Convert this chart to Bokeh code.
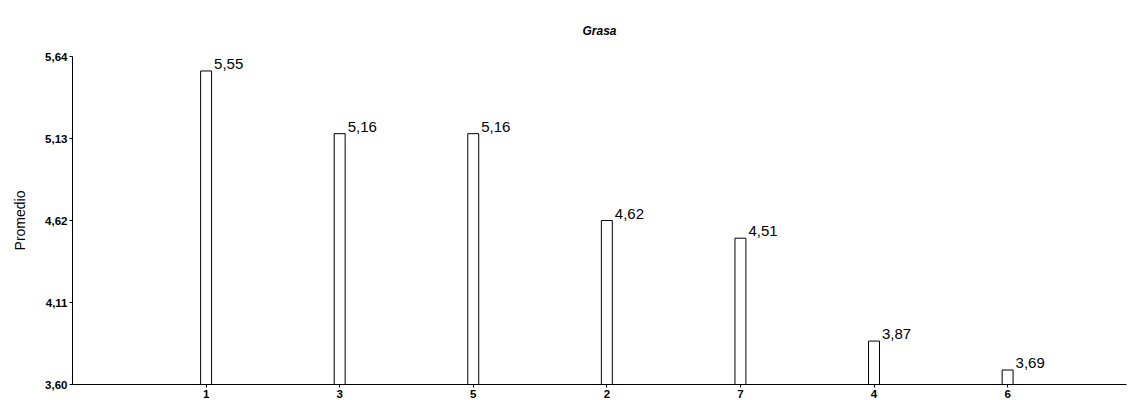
from bokeh.plotting import figure
from bokeh.models import Range1d, FixedTicker, ColumnDataSource
from bokeh.core.properties import value
from bokeh.embed import file_html
from bokeh.resources import INLINE

# Mean fat content per treatment, sorted from highest to lowest
categories = ["1", "3", "5", "2", "7", "4", "6"]
means = [5.55, 5.16, 5.16, 4.62, 4.51, 3.87, 3.69]
y_ticks = [3.60, 4.11, 4.62, 5.13, 5.64]

positions = list(range(1, len(categories) + 1))
labels = [f"{v:.2f}".replace(".", ",") for v in means]

src = ColumnDataSource(dict(x=positions, top=means, label=labels))

FONT = "Liberation Sans"

p = figure(
    width=1129, height=400,
    x_range=Range1d(0, 7.89), y_range=Range1d(3.60, 5.64),
    output_backend="svg", toolbar_location=None,
    min_border_left=72, min_border_right=3,
    min_border_top=56, min_border_bottom=16,
    title="Grasa",
)
p.outline_line_color = None
p.xgrid.visible = False
p.ygrid.visible = False
p.background_fill_color = "white"

p.title.align = "center"
p.title.offset = 9
p.title.standoff = 38
p.title.text_font = FONT
p.title.text_font_size = "12px"
p.title.text_font_style = "bold italic"
p.title.text_color = "black"

p.vbar(x="x", top="top", bottom=3.60, width=0.082, source=src,
       fill_color="white", line_color="black", line_width=1)

p.text(x="x", y="top", text="label", source=src,
       x_offset=8, y_offset=-2, text_baseline="bottom", text_align="left",
       text_font=value(FONT), text_font_size="15px", text_color="black")

# y axis
p.yaxis.ticker = FixedTicker(ticks=y_ticks)
p.yaxis.major_label_overrides = {t: f"{t:.2f}".replace(".", ",") for t in y_ticks}
p.yaxis.axis_label = "Promedio"
p.yaxis.axis_label_text_font = FONT
p.yaxis.axis_label_text_font_size = "14px"
p.yaxis.axis_label_text_font_style = "normal"
p.yaxis.axis_label_text_color = "black"
p.yaxis.axis_label_standoff = 14

# x axis
p.xaxis.ticker = FixedTicker(ticks=positions)
p.xaxis.major_label_overrides = {pos: c for pos, c in zip(positions, categories)}

for ax in (p.xaxis, p.yaxis):
    ax.axis_line_color = "black"
    ax.axis_line_width = 1
    ax.major_tick_line_color = "black"
    ax.major_tick_in = 0
    ax.major_tick_out = 3
    ax.minor_tick_line_color = None
    ax.major_label_text_font = FONT
    ax.major_label_text_font_size = "11.5px"
    ax.major_label_text_font_style = "bold"
    ax.major_label_text_color = "black"
    ax.major_label_standoff = 2

open("out.html", "w").write(file_html(p, INLINE))
